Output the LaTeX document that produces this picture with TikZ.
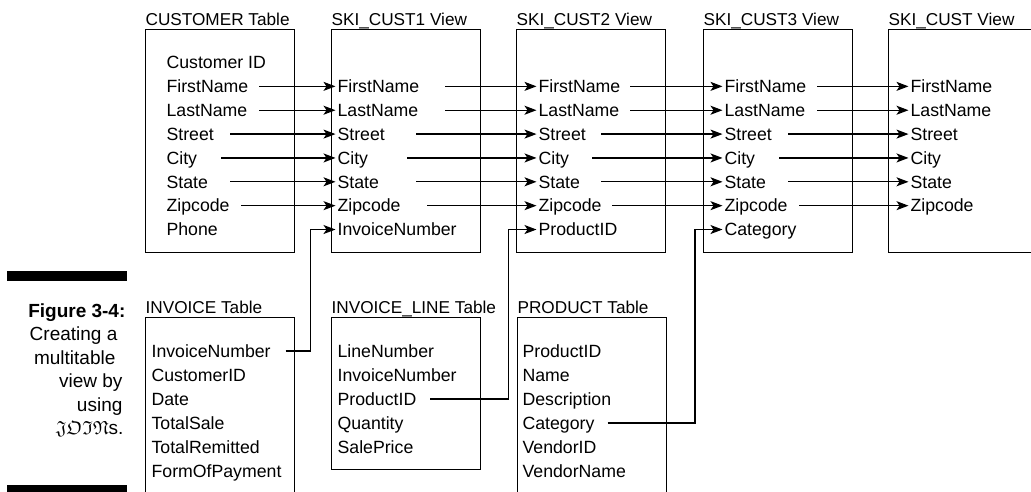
\documentclass[tikz,border=0pt]{standalone}
\usepackage{amssymb}
\usepackage{fontspec}
\setmainfont{Liberation Sans}
\usetikzlibrary{arrows.meta}

\begin{document}
\begin{tikzpicture}[x=1pt,y=-1pt,line width=1.2pt,
    >={Stealth[length=12pt,width=9pt,inset=3pt]},
    tbl/.style={draw,rectangle,anchor=north west,minimum width=149pt,minimum height=223pt,inner sep=0pt},
    ttl/.style={anchor=base west,inner sep=0pt,font=\fontsize{17.2}{20}\selectfont},
    fld/.style={anchor=west,inner xsep=1.5pt,inner ysep=0pt,text height=12.6pt,text depth=0pt,font=\fontsize{17.7}{20}\selectfont},
    captext/.style={anchor=base east,inner sep=0pt,font=\fontsize{19}{22}\selectfont},
    link/.style={->}]

    \useasboundingbox (0,0) rectangle (1031,491);
    \clip (0,0) rectangle (1031,491);

    % Tables and views
    \node[tbl] (cust) at (145,29) {};
    \node[tbl] (skia) at (331,29) {};
    \node[tbl] (skib) at (516,29) {};
    \node[tbl] (skic) at (703,29) {};
    \node[tbl] (skid) at (888,29) {};
    \node[tbl] (inv) at (145,317) {};
    \node[tbl,minimum height=152pt] (line) at (331,317) {};
    \node[tbl] (prod) at (517,317) {};

    % Titles
    \node[ttl] (cust-t) at ([yshift=4pt]cust.north west) {CUSTOMER Table};
    \node[ttl] (skia-t) at ([yshift=4pt]skia.north west) {SKI\_CUST1 View};
    \node[ttl] (skib-t) at ([yshift=4pt]skib.north west) {SKI\_CUST2 View};
    \node[ttl] (skic-t) at ([yshift=4pt]skic.north west) {SKI\_CUST3 View};
    \node[ttl] (skid-t) at ([yshift=4pt]skid.north west) {SKI\_CUST View};
    \node[ttl] (inv-t) at ([yshift=4pt]inv.north west) {INVOICE Table};
    \node[ttl] (line-t) at ([yshift=4pt]line.north west) {INVOICE\_LINE Table};
    \node[ttl] (prod-t) at ([yshift=4pt]prod.north west) {PRODUCT Table};

    % Fields
    \foreach \f [count=\i from 0] in {Customer ID,FirstName,LastName,Street,City,State,Zipcode,Phone}
      \node[fld] (cust-\i) at ([xshift=19.5pt,yshift={-33.5-23.86*\i}]cust.north west) {\f};
    \foreach \f [count=\i] in {FirstName,LastName,Street,City,State,Zipcode,InvoiceNumber}
      \node[fld] (skia-\i) at ([xshift=4.5pt,yshift={-33.5-23.86*\i}]skia.north west) {\f};
    \foreach \f [count=\i] in {FirstName,LastName,Street,City,State,Zipcode,ProductID}
      \node[fld] (skib-\i) at ([xshift=20.5pt,yshift={-33.5-23.86*\i}]skib.north west) {\f};
    \foreach \f [count=\i] in {FirstName,LastName,Street,City,State,Zipcode,Category}
      \node[fld] (skic-\i) at ([xshift=19.5pt,yshift={-33.5-23.86*\i}]skic.north west) {\f};
    \foreach \f [count=\i] in {FirstName,LastName,Street,City,State,Zipcode}
      \node[fld] (skid-\i) at ([xshift=20.5pt,yshift={-33.5-23.86*\i}]skid.north west) {\f};
    \foreach \f [count=\i from 0] in {InvoiceNumber,CustomerID,Date,TotalSale,TotalRemitted,FormOfPayment}
      \node[fld] (inv-\i) at ([xshift=4.5pt,yshift={-34-24*\i}]inv.north west) {\f};
    \foreach \f [count=\i from 0] in {LineNumber,InvoiceNumber,ProductID,Quantity,SalePrice}
      \node[fld] (line-\i) at ([xshift=4.5pt,yshift={-34-24*\i}]line.north west) {\f};
    \foreach \f [count=\i from 0] in {ProductID,Name,Description,Category,VendorID,VendorName}
      \node[fld] (prod-\i) at ([xshift=3.5pt,yshift={-34-24*\i}]prod.north west) {\f};

    % Straight links
    \foreach \a/\b in {cust/skia,skia/skib,skib/skic,skic/skid}
      \foreach \r/\off in {1/114,2/114,3/85,4/76,5/85,6/96}
        \draw[link] ([xshift=\off pt]\a.west |- \a-\r.west) -- (\b-\r.west);

    % Join links
    \draw[link] ([xshift=13pt]inv-0.east) -| ([xshift=-25pt]skia-7.west) -- (skia-7.west);
    \draw[link] ([xshift=12pt]line-2.east) -| ([xshift=-28pt]skib-7.west) -- (skib-7.west);
    \draw[link] ([xshift=11pt]prod-3.east) -| ([xshift=-27.5pt]skic-7.west) -- (skic-7.west);

    % Caption
    \fill (7,271) rectangle (127,281);
    \fill (7,485) rectangle (127,495);
    \foreach \t/\e [count=\i from 0] in {{\textbf{Figure 3-4:}}/126,{Creating a}/118,{multitable}/116,{view by}/123,{using}/123,{$\mathfrak{JOIN}$s.}/124}
      \node[captext] (cap-\i) at (\e,317+23.5*\i) {\t};

\end{tikzpicture}
\end{document}
